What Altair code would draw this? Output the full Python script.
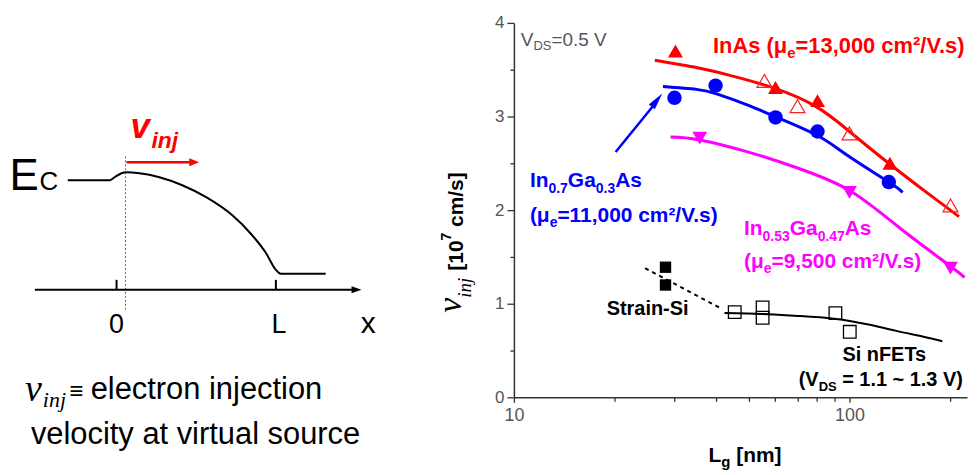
import altair as alt
import pandas as pd

SANS = "Liberation Sans"
SERIF = "Liberation Serif"
NB = "\u00a0"

# ---------------- right panel data (Lg [nm], v_inj [1e7 cm/s]) ----------------
inas_lg = [30.3, 60.2, 80.3, 132]
inas_v = [3.70, 3.31, 3.17, 2.50]
inas_open_lg = [55.8, 70.0, 100, 200]
inas_open_v = [3.38, 3.11, 2.82, 2.05]
inas_fit_lg = [26.3, 35.2, 44, 60, 80, 100, 132, 174, 212]
inas_fit_v = [3.60, 3.52, 3.44, 3.30, 3.10, 2.84, 2.49, 2.16, 1.93]

ing07_lg = [30.1, 39.9, 60.2, 80.3, 131]
ing07_v = [3.20, 3.33, 2.99, 2.84, 2.30]
ing07_fit_lg = [27.8, 35, 40.4, 50, 60, 80, 100, 131, 144]
ing07_fit_v = [3.32, 3.29, 3.24, 3.12, 3.00, 2.80, 2.57, 2.30, 2.19]

ing053_lg = [35.8, 100, 200]
ing053_v = [2.77, 2.19, 1.38]
ing053_fit_lg = [29.3, 35.8, 50, 70, 100, 140, 200, 220]
ing053_fit_v = [2.78, 2.75, 2.62, 2.45, 2.21, 1.82, 1.40, 1.28]

si_strain_lg = [28.3, 28.3]
si_strain_v = [1.39, 1.20]
si_lg = [45.5, 55.1, 55.1, 90.8, 100.2]
si_v = [0.91, 0.96, 0.85, 0.90, 0.70]
si_fit_lg = [42.4, 55, 70, 90, 115, 138, 165, 189]
si_fit_v = [0.90, 0.89, 0.87, 0.84, 0.775, 0.71, 0.65, 0.60]
si_dash_lg = [24.6, 40.9]
si_dash_v = [1.38, 0.96]

arrow_lg = [20.1, 26.5]
arrow_v = [2.62, 3.15]
arrow_head_lg = [26.7]
arrow_head_v = [3.174]

x_tick_values = [10, 20, 30, 40, 50, 60, 70, 80, 90, 100, 200]
y_tick_values = [0, 0.5, 1, 1.5, 2, 2.5, 3, 3.5, 4]

# ---------------- left schematic data (position in units of L, energy a.u.) ----------------
ec_pos = [-0.306, -0.044, -0.0125, 0.031, 0.0625, 0.144, 0.269, 0.4125, 0.5625,
          0.725, 0.85, 0.9375, 1.0, 1.031, 1.3125]
ec_energy = [1.10, 1.10, 1.13, 1.17, 1.18, 1.17, 1.13, 1.05, 0.93,
             0.75, 0.55, 0.37, 0.20, 0.16, 0.16]
tick_pos = [0, 1]
vs_pos = 0.056

# ---------------- text metrics (Arial / Liberation metrics, per 1000 em) ----------------
REG = {' ': 278, NB: 278, '(': 333, ')': 333, '.': 278, ',': 278, '/': 278, '=': 584,
       '~': 584, '-': 333, '[': 278, ']': 278, '\u00b2': 333, '\u03bc': 576,
       'A': 667, 'C': 722, 'D': 722, 'E': 667, 'F': 611, 'G': 778, 'I': 278, 'L': 556,
       'S': 667, 'T': 611, 'V': 667, 'a': 556, 'c': 500, 'e': 556, 'g': 556, 'i': 222,
       'j': 222, 'l': 222, 'm': 833, 'n': 556, 'o': 556, 'r': 333, 's': 500, 't': 278,
       'u': 556, 'v': 500, 'x': 500, 'y': 500}
BOLD = {' ': 278, NB: 278, '(': 333, ')': 333, '.': 278, ',': 278, '/': 278, '=': 584,
        '~': 584, '-': 333, '[': 333, ']': 333, '\u00b2': 333, '\u03bc': 611,
        'A': 722, 'D': 722, 'E': 667, 'F': 611, 'G': 778, 'I': 278, 'L': 611, 'S': 667,
        'T': 611, 'V': 667, 'a': 556, 'c': 556, 'e': 556, 'g': 611, 'i': 278, 'j': 278,
        'm': 889, 'n': 611, 'r': 389, 's': 556, 't': 333}
SERIF_IT = {'v': 444, 'i': 278, 'n': 500, 'j': 278}


def tw(text, size, table):
    return sum(table.get(c, 556) for c in text) * size / 1000.0


def rich(anchor, enc, segs, color, angle=None):
    """Text made of several pieces (subscripts etc.) laid out with dx offsets."""
    layers = []
    off = 0.0
    for s in segs:
        off += s.get('gap', 0)
        bold = s.get('bold', True)
        serif = s.get('serif', False)
        table = SERIF_IT if serif else (BOLD if bold else REG)
        kw = dict(text=s['t'], dx=off, dy=s.get('dy', 0), align='left',
                  baseline='alphabetic', fontSize=s['size'],
                  font=SERIF if serif else SANS,
                  fontWeight='bold' if bold else 'normal',
                  fontStyle='italic' if serif else 'normal', color=color)
        if angle is not None:
            kw['angle'] = angle
        layers.append(alt.Chart(anchor).mark_text(**kw).encode(**enc))
        off += tw(s['t'], s['size'], table)
    return layers


# ================= right panel =================
X = alt.X('lg:Q', title=None,
          scale=alt.Scale(type='log', domain=[10, 224], nice=False),
          axis=alt.Axis(values=x_tick_values,
                        labelExpr="datum.value == 10 ? '10' : (datum.value == 100 ? '100' : '')",
                        tickSize={'condition': {'test': 'datum.value == 10 || datum.value == 100',
                                                'value': 5}, 'value': 4},
                        tickWidth=1.3, labelFontSize=18, labelColor='#555',
                        labelPadding=4, labelFont=SANS, domainColor='#333', tickColor='#333',
                        domainWidth=1.5, grid=False, labelFlush=False, labelOverlap=False))
Y = alt.Y('v:Q', title=None,
          scale=alt.Scale(domain=[0, 4], nice=False),
          axis=alt.Axis(values=y_tick_values,
                        labelExpr="datum.value % 1 == 0 ? format(datum.value, 'd') : ''",
                        tickSize={'condition': {'test': 'datum.value % 1 == 0', 'value': 7},
                                  'value': 4},
                        tickWidth=1.3, labelFontSize=17, labelColor='#555',
                        labelPadding=3, labelFont=SANS, domainColor='#333', tickColor='#333',
                        domainWidth=1.5, grid=False, labelFlush=False, labelOverlap=False))
XY = {'x': X, 'y': Y}


def df(lg, v):
    return pd.DataFrame({'lg': lg, 'v': v})


R = []
R.append(alt.Chart(df(inas_fit_lg, inas_fit_v)).mark_line(
    color='#ff0000', strokeWidth=3, interpolate='natural').encode(**XY))
R.append(alt.Chart(df(ing07_fit_lg, ing07_fit_v)).mark_line(
    color='#0000ff', strokeWidth=3, interpolate='natural').encode(**XY))
R.append(alt.Chart(df(ing053_fit_lg, ing053_fit_v)).mark_line(
    color='#ff00ff', strokeWidth=3, interpolate='natural').encode(**XY))
R.append(alt.Chart(df(si_fit_lg, si_fit_v)).mark_line(
    color='#000000', strokeWidth=2, interpolate='natural').encode(**XY))
R.append(alt.Chart(df(si_dash_lg, si_dash_v)).mark_line(
    color='#000000', strokeWidth=2, strokeDash=[4, 4]).encode(**XY))
R.append(alt.Chart(pd.DataFrame({'lg': [arrow_lg[0]], 'v': [arrow_v[0]],
                                 'lg2': [arrow_lg[1]], 'v2': [arrow_v[1]]})).mark_rule(
    color='#0000ff', strokeWidth=2.5).encode(x=X, y=Y, x2='lg2:Q', y2='v2:Q'))
R.append(alt.Chart(df(arrow_head_lg, arrow_head_v)).mark_point(
    shape='M0,-1L0.45,1L-0.45,1Z', filled=True, size=289, angle=38, color='#0000ff',
    opacity=1).encode(**XY))

R.append(alt.Chart(df(inas_lg, inas_v)).mark_point(
    shape='triangle-up', filled=True, size=225, color='#ff0000', opacity=1).encode(**XY))
R.append(alt.Chart(df(inas_open_lg, inas_open_v)).mark_point(
    shape='triangle-up', filled=False, size=225, color='#ff2020', strokeWidth=1.2,
    opacity=1).encode(**XY))
R.append(alt.Chart(df(ing07_lg, ing07_v)).mark_point(
    shape='circle', filled=True, size=210, color='#0000ff', opacity=1).encode(**XY))
R.append(alt.Chart(df(ing053_lg, ing053_v)).mark_point(
    shape='triangle-down', filled=True, size=220, color='#ff00ff', opacity=1).encode(**XY))
R.append(alt.Chart(df(si_strain_lg, si_strain_v)).mark_point(
    shape='square', filled=True, size=130, color='#000000', opacity=1).encode(**XY))
R.append(alt.Chart(df(si_lg, si_v)).mark_point(
    shape='square', filled=False, size=160, color='#000000', strokeWidth=1.3,
    opacity=1).encode(**XY))

# annotations (anchored in data coordinates)
R += rich(df([10.49], [3.755]), XY,
          [dict(t='V', size=19, bold=False), dict(t='DS', size=13, dy=4, bold=False),
           dict(t='=0.5' + NB + 'V', size=19, bold=False)], '#555555')
R += rich(df([39.2], [3.68]), XY,
          [dict(t='InAs' + NB + '(\u03bc', size=22), dict(t='e', size=15, dy=5),
           dict(t='=13,000' + NB + 'cm\u00b2/V.s)', size=22)], '#ff0000')
R += rich(df([11.16], [2.245]), XY,
          [dict(t='In', size=21), dict(t='0.7', size=14, dy=6), dict(t='Ga', size=21),
           dict(t='0.3', size=14, dy=6), dict(t='As', size=21)], '#0000ff')
R += rich(df([11.16], [1.87]), XY,
          [dict(t='(\u03bc', size=21), dict(t='e', size=14, dy=5),
           dict(t='=11,000' + NB + 'cm\u00b2/V.s)', size=21)], '#0000ff')
R += rich(df([48.5], [1.734]), XY,
          [dict(t='In', size=21), dict(t='0.53', size=14, dy=6), dict(t='Ga', size=21),
           dict(t='0.47', size=14, dy=6), dict(t='As', size=21)], '#ff00ff')
R += rich(df([48.5], [1.383]), XY,
          [dict(t='(\u03bc', size=21), dict(t='e', size=14, dy=5),
           dict(t='=9,500' + NB + 'cm\u00b2/V.s)', size=21)], '#ff00ff')
R += rich(df([18.9], [0.883]), XY, [dict(t='Strain-Si', size=20)], '#000000')
R += rich(df([95.3], [0.383]), XY, [dict(t='Si' + NB + 'nFETs', size=20)], '#000000')
R += rich(df([70.6], [0.117]), XY,
          [dict(t='(V', size=20), dict(t='DS', size=13, dy=5),
           dict(t='=' + NB + '1.1' + NB + '~' + NB + '1.3' + NB + 'V)', size=20, gap=5.6)],
          '#000000')

# axis titles (placed in plot pixels)
one = pd.DataFrame({'a': [0]})
R += rich(one, {'x': alt.value(195.5), 'y': alt.value(441)},
          [dict(t='L', size=21), dict(t='g', size=15, dy=5),
           dict(t='[nm]', size=21, gap=5.8)], '#000000')
R += rich(one, {'x': alt.value(-53), 'y': alt.value(291)},
          [dict(t='v', size=34, serif=True, bold=False),
           dict(t='inj', size=19, serif=True, bold=False, dy=10),
           dict(t='[10', size=21, dy=2, gap=7),
           dict(t='7', size=14, dy=-10),
           dict(t='cm/s]', size=21, dy=2, gap=5.8)], '#000000', angle=270)

right = alt.layer(*R).properties(width=455, height=376)

# ================= left schematic =================
LX = alt.X('x:Q', scale=alt.Scale(domain=[-0.675, 1.6], nice=False, zero=False), axis=None)
LY = alt.Y('y:Q', scale=alt.Scale(domain=[-1.08, 2.68], nice=False, zero=False), axis=None)
LXY = {'x': LX, 'y': LY}


def pt(x, y):
    return pd.DataFrame({'x': [x], 'y': [y]})


L = []
L.append(alt.Chart(pd.DataFrame({'x': [vs_pos], 'y': [-0.2], 'y2': [1.35]})).mark_rule(
    color='#666666', strokeWidth=1, strokeDash=[2, 2]).encode(x=LX, y=LY, y2='y2:Q'))
L.append(alt.Chart(pd.DataFrame({'x': [-0.5125], 'x2': [1.51], 'y': [0]})).mark_rule(
    color='#000000', strokeWidth=2).encode(x=LX, x2='x2:Q', y=LY))
L.append(alt.Chart(pt(1.506, 0)).mark_point(
    shape='M1,0L-1,-0.7L-1,0.7Z', filled=True, size=100, color='#000000',
    opacity=1).encode(**LXY))
L.append(alt.Chart(pd.DataFrame({'x': tick_pos, 'y': [0, 0], 'y2': [0.1, 0.1]})).mark_rule(
    color='#000000', strokeWidth=2).encode(x=LX, y=LY, y2='y2:Q'))
L.append(alt.Chart(pd.DataFrame({'x': ec_pos, 'y': ec_energy})).mark_line(
    color='#000000', strokeWidth=2, interpolate='monotone').encode(**LXY))
L.append(alt.Chart(pd.DataFrame({'x': [0.0625], 'x2': [0.47], 'y': [1.28]})).mark_rule(
    color='#ff0000', strokeWidth=2.5).encode(x=LX, x2='x2:Q', y=LY))
L.append(alt.Chart(pt(0.4875, 1.28)).mark_point(
    shape='M1,0L-1,-0.8L-1,0.8Z', filled=True, size=100, color='#ff0000',
    opacity=1).encode(**LXY))


def ltext(x, y, t, size, color='#000000', bold=False, italic=False, serif=False,
          align='left'):
    return alt.Chart(pt(x, y)).mark_text(
        text=t, align=align, baseline='alphabetic', fontSize=size,
        font=SERIF if serif else SANS, fontWeight='bold' if bold else 'normal',
        fontStyle='italic' if italic else 'normal', color=color).encode(**LXY)


L.append(ltext(-0.672, 1.0, 'E', 44))
L.append(ltext(-0.484, 1.0, 'C', 26))
L.append(ltext(0.0875, 1.52, 'v', 35, color='#ff0000', bold=True, italic=True))
L.append(ltext(0.219, 1.42, 'inj', 23, color='#ff0000', bold=True, italic=True))
L.append(ltext(0.0, -0.43, '0', 27, align='center'))
L.append(ltext(1.02, -0.43, 'L', 27, align='center'))
L.append(ltext(1.58, -0.43, 'x', 30, align='center'))
L.append(ltext(-0.575, -1.12, 'v', 38, italic=True, serif=True))
L.append(ltext(-0.4625, -1.18, 'inj', 22, italic=True, serif=True))
L.append(ltext(-0.295, -1.10, '\u2261', 24))
L.append(ltext(-0.1625, -1.10, 'electron injection', 31))
L.append(ltext(-0.5375, -1.55, 'velocity at virtual source', 31))

left = alt.layer(*L).properties(width=364, height=376)

chart = alt.hconcat(left, right, spacing=143, bounds='flush').properties(
    padding={'left': 1, 'top': 5, 'right': 0, 'bottom': 0}
).configure(font=SANS).configure_view(stroke=None)

chart.save('out.html', embed_options={'renderer': 'svg', 'actions': False})
